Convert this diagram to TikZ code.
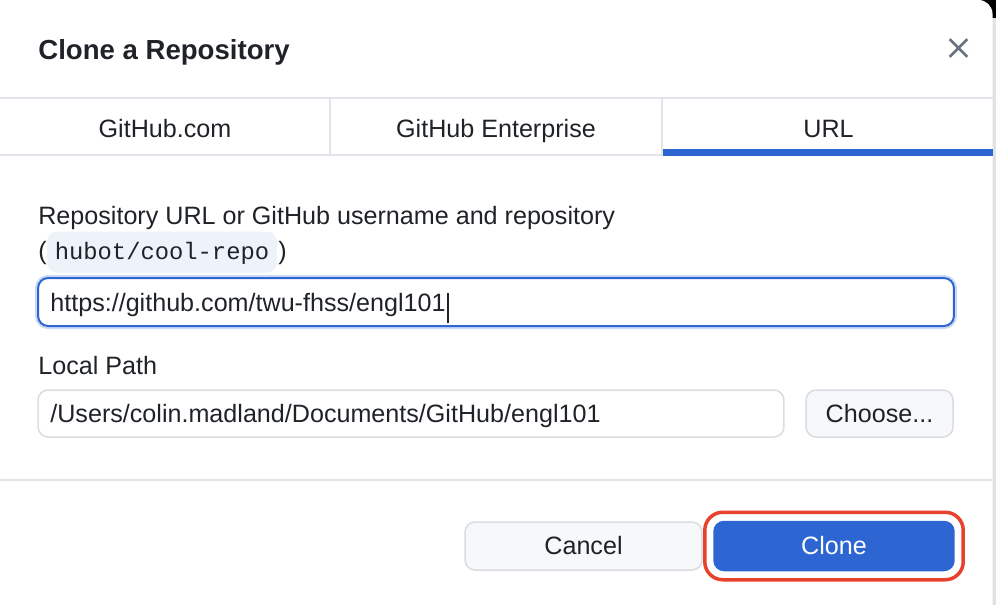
\documentclass[tikz,border=0pt]{standalone}
\usepackage{fontspec}
\setmainfont{Liberation Sans}
\setmonofont{Liberation Mono}
\usetikzlibrary{positioning, calc, fit}

\definecolor{textdark}{HTML}{1F2328}
\definecolor{linegray}{HTML}{E1E4E8}
\definecolor{boxgray}{HTML}{D9DDE1}
\definecolor{btnfill}{HTML}{F6F8FA}
\definecolor{ghblue}{HTML}{2D66D2}
\definecolor{glowblue}{HTML}{C9D9F6}
\definecolor{codebg}{HTML}{EEF3FA}
\definecolor{xgray}{HTML}{6A737D}
\definecolor{hlred}{HTML}{E8412C}
\definecolor{edgegray}{HTML}{E2E2E2}

\newcommand{\bodyfont}{\fontsize{14.3pt}{17pt}\selectfont}

\tikzstyle{fieldlabel} = [anchor=base west, inner sep=0pt, text=textdark, font=\bodyfont]
\tikzstyle{tabtext} = [anchor=base, inner sep=0pt, text=textdark, font=\bodyfont]
\tikzstyle{field} = [draw=boxgray, line width=0.03cm, fill=white, rounded corners=0.2cm, inner sep=0pt]
\tikzstyle{button} = [draw=boxgray, line width=0.03cm, fill=btnfill, rounded corners=0.2cm, inner sep=0pt, text=textdark, font=\bodyfont]
\tikzstyle{sepline} = [linegray, line width=0.04cm]

\begin{document}
\begin{tikzpicture}[x=0.02cm, y=-0.02cm]
        \useasboundingbox (0,0) rectangle (996,605);
        % window edge and dialog
        \fill[edgegray] (990,0) rectangle (996,605);
        \fill[black] (975,0) rectangle (996,18);
        \fill[white, rounded corners=0.28cm] (-20,0) rectangle (992.5,640);

        % title bar
        \node[anchor=base west, inner sep=0pt, text=textdark, font=\fontsize{15.7pt}{19pt}\selectfont\bfseries] (title) at (38,59) {Clone a Repository};
        \node[minimum size=0.34cm, inner sep=0pt] (close) at (958.5,48) {};
        \draw[xgray, line width=0.055cm] (close.north west) -- (close.south east) (close.north east) -- (close.south west);

        % tabs
        \draw[sepline] (0,98) -- (992.5,98);
        \draw[sepline] (0,155) -- (992.5,155);
        \draw[sepline] (330,98) -- (330,155);
        \draw[sepline] (662,98) -- (662,155);
        \fill[ghblue] (663,149) rectangle (992.5,155.5);
        \node[tabtext] (tabcom) at (165,137) {GitHub.com};
        \node[tabtext] (tabent) at (496,137) {GitHub Enterprise};
        \node[tabtext] (taburl) at (828.5,137) {URL};

        % repository url
        \node[fieldlabel] (urllabel) at (38,224) {Repository URL or GitHub username and repository};
        \node[fill=codebg, rounded corners=0.2cm, minimum width=4.6cm, minimum height=0.82cm, inner sep=0pt] (codebg) at (162,252) {};
        \node[fieldlabel] (lparen) at (38,259) {(};
        \node[anchor=base, inner sep=0pt, text=textdark, font=\fontsize{13.55pt}{16pt}\selectfont\ttfamily] (codetext) at (162,259) {hubot/cool-repo};
        \node[fieldlabel] (rparen) at (278,259) {)};
        \node[field, draw=glowblue, line width=0.12cm, minimum width=18.32cm, minimum height=0.96cm] (urlglow) at (496,302) {};
        \node[field, draw=ghblue, line width=0.04cm, minimum width=18.32cm, minimum height=0.96cm] (urlbox) at (496,302) {};
        \node[fieldlabel] (urltext) at (50,311) {https://github.com/twu-fhss/engl101};
        \draw[textdark, line width=0.035cm] ($(urltext.base east)+(2,12)$) -- ($(urltext.base east)+(2,-18)$);

        % local path
        \node[fieldlabel] (pathlabel) at (38,374) {Local Path};
        \node[field, minimum width=14.92cm, minimum height=0.94cm] (pathbox) at (411,413.5) {};
        \node[fieldlabel] (pathtext) at (50,422.5) {/Users/colin.madland/Documents/GitHub/engl101};
        \node[button, minimum width=2.94cm, minimum height=0.94cm] (choose) at (879.5,413.5) {Choose...};

        % footer
        \draw[sepline] (0,480) -- (992.5,480);
        \node[button, minimum width=4.74cm, minimum height=0.96cm] (cancel) at (583.5,546) {Cancel};
        \node[button, draw=ghblue, fill=ghblue, text=white, minimum width=4.8cm, minimum height=0.98cm] (clone) at (834,546) {Clone};
        \node[draw=hlred, line width=0.07cm, rounded corners=0.36cm, fit=(clone), inner sep=0.17cm] (highlight) {};
    \end{tikzpicture}
\end{document}
